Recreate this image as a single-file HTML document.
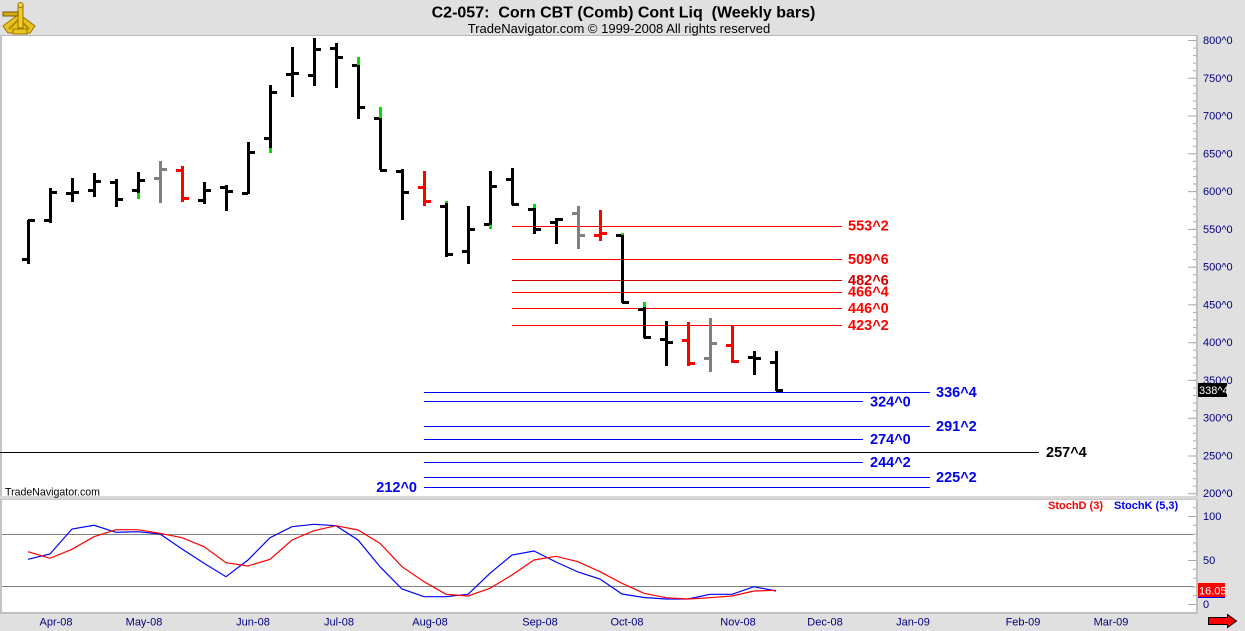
<!DOCTYPE html>
<html>
<head>
<meta charset="utf-8">
<style>
html,body{margin:0;padding:0;background:#e0e0e0;}
svg{display:block;}
text{font-family:"Liberation Sans",Arial,sans-serif;}
</style>
</head>
<body>
<svg width="1245" height="631" viewBox="0 0 1245 631" xmlns="http://www.w3.org/2000/svg">
<defs>
<pattern id="mt1" patternUnits="userSpaceOnUse" x="0" y="40" width="10" height="7.554">
<rect x="0" y="0" width="10" height="1" fill="#a8a8a8"/>
</pattern>
<pattern id="mt2" patternUnits="userSpaceOnUse" x="0" y="516" width="10" height="8.8">
<rect x="0" y="0" width="10" height="1" fill="#a8a8a8"/>
</pattern>
</defs>
<!-- background -->
<rect x="0" y="0" width="1245" height="631" fill="#e0e0e0"/>
<!-- upper panel -->
<rect x="2" y="36" width="1194" height="460" fill="#ffffff"/>
<rect x="0" y="35" width="1198" height="1" fill="#b8b8b8"/>
<rect x="0" y="35" width="2" height="462" fill="#c4c4c4"/>
<rect x="1196" y="35" width="2" height="462" fill="#c0c0c0"/>
<rect x="0" y="496" width="1198" height="3" fill="#d8d8d8"/>
<!-- lower panel -->
<rect x="2" y="500" width="1194" height="112" fill="#ffffff"/>
<rect x="0" y="499" width="1198" height="1" fill="#c8c8c8"/>
<rect x="0" y="499" width="2" height="114" fill="#c4c4c4"/>
<rect x="1196" y="499" width="2" height="114" fill="#c0c0c0"/>
<rect x="0" y="612" width="1198" height="2" fill="#c0c0c0"/>

<!-- logo -->
<g>
<path d="M3 26 L19 14 L35 26 L30 33 L8 33 Z" fill="#e8c41e" stroke="#9a7400" stroke-width="1"/>
<path d="M9 29 L19 19 L29 29" fill="none" stroke="#b08a08" stroke-width="2"/>
<rect x="18" y="4" width="5" height="24" fill="#f0cc28" stroke="#9a7400" stroke-width="1"/>
<rect x="3" y="12" width="15" height="4" fill="#d4ae10" stroke="#7a5a00" stroke-width="1"/>
<circle cx="20.5" cy="5" r="2.5" fill="#f4d840" stroke="#9a7400" stroke-width="1"/>
<rect x="13" y="29" width="14" height="5" fill="#e8c41e" stroke="#9a7400" stroke-width="1"/>
</g>

<!-- title -->
<text x="623.5" y="17.5" font-size="16" font-weight="bold" text-anchor="middle" fill="#000" style="white-space:pre" xml:space="preserve">C2-057:  Corn CBT (Comb) Cont Liq  (Weekly bars)</text>
<text x="619" y="33" font-size="13" text-anchor="middle" fill="#000">TradeNavigator.com © 1999-2008 All rights reserved</text>

<!-- horizontal level lines -->
<g shape-rendering="crispEdges">
<rect x="512" y="226" width="330" height="1" fill="#ff0000"/>
<rect x="512" y="259" width="330" height="1" fill="#ff0000"/>
<rect x="512" y="280" width="330" height="1" fill="#cc0000"/>
<rect x="512" y="292" width="330" height="1" fill="#ff0000"/>
<rect x="512" y="308" width="330" height="1" fill="#ff0000"/>
<rect x="512" y="325" width="330" height="1" fill="#ff0000"/>

<rect x="424" y="392" width="506" height="1" fill="#0000ee"/>
<rect x="424" y="401" width="439" height="1" fill="#0000ee"/>
<rect x="424" y="426" width="506" height="1" fill="#0000ee"/>
<rect x="424" y="439" width="439" height="1" fill="#0000ee"/>
<rect x="0" y="452" width="1039" height="1" fill="#000000"/>
<rect x="424" y="462" width="439" height="1" fill="#0000ee"/>
<rect x="424" y="477" width="506" height="1" fill="#0000ee"/>
<rect x="424" y="487" width="506" height="1" fill="#0000ee"/>
</g>

<g font-size="14.5" font-weight="bold">
<text x="848" y="230.5" fill="#ff0000">553^2</text>
<text x="848" y="264" fill="#ff0000">509^6</text>
<text x="848" y="285.2" fill="#cc0000">482^6</text>
<text x="848" y="296.5" fill="#ff0000">466^4</text>
<text x="848" y="313.2" fill="#ff0000">446^0</text>
<text x="848" y="330" fill="#ff0000">423^2</text>
<text x="936" y="397.2" fill="#0000ee">336^4</text>
<text x="870" y="406.5" fill="#0000ee">324^0</text>
<text x="936" y="431.2" fill="#0000ee">291^2</text>
<text x="870" y="444.2" fill="#0000ee">274^0</text>
<text x="1046" y="457.2" fill="#000000">257^4</text>
<text x="870" y="467.2" fill="#0000ee">244^2</text>
<text x="936" y="482.2" fill="#0000ee">225^2</text>
<text x="417" y="492" fill="#0000ee" text-anchor="end">212^0</text>
</g>

<text x="5" y="495.5" font-size="10.6" fill="#000">TradeNavigator.com</text>

<!-- bars -->
<g shape-rendering="crispEdges">
<g fill="#000">
<rect x="27" y="220" width="3" height="44"/><rect x="22" y="258" width="6" height="3"/><rect x="28" y="219" width="7" height="3"/>
<rect x="49" y="188" width="3" height="35"/><rect x="44" y="219" width="6" height="3"/><rect x="50" y="191" width="7" height="3"/>
<rect x="71" y="178" width="3" height="24"/><rect x="66" y="192" width="6" height="3"/><rect x="72" y="191" width="7" height="3"/>
<rect x="93" y="173" width="3" height="24"/><rect x="88" y="189" width="6" height="3"/><rect x="94" y="180" width="7" height="3"/>
<rect x="115" y="179" width="3" height="28"/><rect x="110" y="181" width="6" height="3"/><rect x="116" y="198" width="7" height="3"/>
<rect x="137" y="172" width="3" height="27"/><rect x="132" y="189" width="6" height="3"/><rect x="138" y="179" width="7" height="3"/>
<rect x="203" y="182" width="3" height="22"/><rect x="198" y="199" width="6" height="3"/><rect x="204" y="189" width="7" height="3"/>
<rect x="225" y="185" width="3" height="26"/><rect x="220" y="186" width="6" height="3"/><rect x="226" y="190" width="7" height="3"/>
<rect x="247" y="142" width="3" height="52"/><rect x="242" y="192" width="6" height="3"/><rect x="248" y="151" width="7" height="3"/>
<rect x="269" y="85" width="3" height="68"/><rect x="264" y="137" width="6" height="3"/><rect x="270" y="91" width="7" height="3"/>
<rect x="291" y="47" width="3" height="50"/><rect x="286" y="73" width="6" height="3"/><rect x="292" y="72" width="7" height="3"/>
<rect x="313" y="38" width="3" height="48"/><rect x="308" y="74" width="6" height="3"/><rect x="314" y="48" width="7" height="3"/>
<rect x="335" y="43" width="3" height="45"/><rect x="330" y="47" width="6" height="3"/><rect x="336" y="56" width="7" height="3"/>
<rect x="357" y="57" width="3" height="62"/><rect x="352" y="64" width="6" height="3"/><rect x="358" y="106" width="7" height="3"/>
<rect x="379" y="107" width="3" height="63"/><rect x="374" y="117" width="6" height="3"/><rect x="380" y="169" width="7" height="3"/>
<rect x="401" y="169" width="3" height="51"/><rect x="396" y="170" width="6" height="3"/><rect x="402" y="191" width="7" height="3"/>
<rect x="445" y="201" width="3" height="56"/><rect x="440" y="205" width="6" height="3"/><rect x="446" y="253" width="7" height="3"/>
<rect x="467" y="206" width="3" height="58"/><rect x="462" y="250" width="6" height="3"/><rect x="468" y="228" width="7" height="3"/>
<rect x="489" y="171" width="3" height="58"/><rect x="484" y="223" width="6" height="3"/><rect x="490" y="185" width="7" height="3"/>
<rect x="511" y="168" width="3" height="37"/><rect x="506" y="178" width="6" height="3"/><rect x="512" y="203" width="7" height="3"/>
<rect x="533" y="204" width="3" height="30"/><rect x="528" y="208" width="6" height="3"/><rect x="534" y="228" width="7" height="3"/>
<rect x="555" y="218" width="3" height="26"/><rect x="550" y="221" width="6" height="3"/><rect x="556" y="218" width="7" height="3"/>
<rect x="621" y="233" width="3" height="70"/><rect x="616" y="234" width="6" height="3"/><rect x="622" y="301" width="7" height="3"/>
<rect x="643" y="302" width="3" height="36"/><rect x="638" y="308" width="6" height="3"/><rect x="644" y="336" width="7" height="3"/>
<rect x="665" y="321" width="3" height="45"/><rect x="660" y="338" width="6" height="3"/><rect x="666" y="341" width="7" height="3"/>
<rect x="753" y="351" width="3" height="24"/><rect x="748" y="356" width="6" height="3"/><rect x="754" y="357" width="7" height="3"/>
<rect x="775" y="351" width="3" height="40"/><rect x="770" y="361" width="6" height="3"/><rect x="776" y="389" width="7" height="3"/>
</g>
<g fill="#808080">
<rect x="159" y="161" width="3" height="42"/><rect x="154" y="177" width="6" height="3"/><rect x="160" y="168" width="7" height="3"/>
<rect x="577" y="206" width="3" height="43"/><rect x="572" y="212" width="6" height="3"/><rect x="578" y="234" width="7" height="3"/>
<rect x="709" y="318" width="3" height="54"/><rect x="704" y="357" width="6" height="3"/><rect x="710" y="342" width="7" height="3"/>
</g>
<g fill="#ff0000">
<rect x="181" y="166" width="3" height="36"/><rect x="176" y="169" width="6" height="3"/><rect x="182" y="197" width="7" height="3"/>
<rect x="423" y="171" width="3" height="35"/><rect x="418" y="186" width="6" height="3"/><rect x="424" y="200" width="7" height="3"/>
<rect x="599" y="210" width="3" height="31"/><rect x="594" y="234" width="6" height="3"/><rect x="600" y="232" width="7" height="3"/>
<rect x="687" y="322" width="3" height="44"/><rect x="682" y="339" width="6" height="3"/><rect x="688" y="362" width="7" height="3"/>
<rect x="731" y="325" width="3" height="38"/><rect x="726" y="344" width="6" height="3"/><rect x="732" y="360" width="7" height="3"/>
</g>
<g fill="#00e000">
<rect x="137" y="193" width="3" height="6"/>
<rect x="269" y="148" width="3" height="5"/>
<rect x="357" y="57" width="3" height="8"/>
<rect x="379" y="107" width="3" height="11"/>
<rect x="445" y="201" width="3" height="2"/>
<rect x="489" y="225" width="3" height="4"/>
<rect x="533" y="204" width="3" height="4"/>
<rect x="621" y="233" width="3" height="2"/>
<rect x="643" y="302" width="3" height="5"/>
</g>
</g>

<!-- right axis upper -->
<rect x="1193" y="40" width="3" height="455" fill="url(#mt1)"/>
<path d="M1188 40.5H1196M1188 78.3H1196M1188 116H1196M1188 153.8H1196M1188 191.6H1196M1188 229.4H1196M1188 267.1H1196M1188 304.9H1196M1188 342.7H1196M1188 380.4H1196M1188 418.2H1196M1188 456H1196M1188 493.7H1196" stroke="#a8a8a8" stroke-width="1"/>
<g font-size="11" fill="#000080">
<text x="1203" y="44">800^0</text>
<text x="1203" y="81.8">750^0</text>
<text x="1203" y="119.5">700^0</text>
<text x="1203" y="157.3">650^0</text>
<text x="1203" y="195.1">600^0</text>
<text x="1203" y="232.9">550^0</text>
<text x="1203" y="270.6">500^0</text>
<text x="1203" y="308.4">450^0</text>
<text x="1203" y="346.2">400^0</text>
<text x="1203" y="383.9">350^0</text>
<text x="1203" y="421.7">300^0</text>
<text x="1203" y="459.5">250^0</text>
<text x="1203" y="497.2">200^0</text>
</g>
<rect x="1198" y="383" width="29" height="14" fill="#000"/>
<text x="1199" y="394" font-size="11" fill="#fff">338^4</text>

<!-- lower panel -->
<g shape-rendering="crispEdges">
<rect x="2" y="534" width="1191" height="1" fill="#808080"/>
<rect x="2" y="586" width="1191" height="1" fill="#808080"/>
</g>
<polyline fill="none" stroke="#0000ff" stroke-width="1.2" points="28,559.3 50,554 72,529 94,525.3 116,532.3 138,531.7 160,534 182,549 204,563.3 226,576.7 248,560 270,537.7 292,526.7 314,524.3 336,525.7 358,540 380,566.7 402,589 424,596.7 446,596.7 468,594.3 490,573.3 512,555 534,551 556,562 578,572 600,579 622,594 644,597.5 666,599 688,599 710,594.3 732,594.3 754,586.7 776,591"/>
<polyline fill="none" stroke="#ff0000" stroke-width="1.2" points="28,551.7 50,558.3 72,549.3 94,536.7 116,529.7 138,529.7 160,533.3 182,537.7 204,546.7 226,562.7 248,566 270,559.3 292,540 314,530.7 336,525.7 358,530 380,543.3 402,566.7 424,581.7 446,594.3 468,596 490,588.3 512,575 534,560 556,556.3 578,561.7 600,571.7 622,583.3 644,593.3 666,597.7 688,599 710,597.7 732,596 754,591 776,590.3"/>
<g font-size="11" font-weight="bold">
<text x="1048" y="509" fill="#ff0000">StochD (3)</text>
<text x="1114" y="509" fill="#0000ee">StochK (5,3)</text>
</g>
<rect x="1193" y="507" width="3" height="98" fill="url(#mt2)"/>
<path d="M1188 516.5H1196M1188 560.5H1196M1188 604.5H1196" stroke="#a8a8a8" stroke-width="1"/>
<g font-size="11" fill="#000080">
<text x="1203" y="520">100</text>
<text x="1203" y="564">50</text>
<text x="1203" y="608">0</text>
</g>
<rect x="1198" y="583" width="27" height="14" fill="#ff0000"/>
<rect x="1198" y="597" width="27" height="1" fill="#0000ff"/>
<text x="1199" y="594.5" font-size="11" fill="#fff">16.05</text>

<!-- x axis labels -->
<g font-size="11" fill="#000080" text-anchor="middle">
<text x="56" y="625.5">Apr-08</text>
<text x="144" y="625.5">May-08</text>
<text x="253" y="625.5">Jun-08</text>
<text x="339" y="625.5">Jul-08</text>
<text x="430" y="625.5">Aug-08</text>
<text x="540" y="625.5">Sep-08</text>
<text x="627" y="625.5">Oct-08</text>
<text x="738" y="625.5">Nov-08</text>
<text x="825" y="625.5">Dec-08</text>
<text x="913" y="625.5">Jan-09</text>
<text x="1023" y="625.5">Feb-09</text>
<text x="1111" y="625.5">Mar-09</text>
</g>

<!-- red arrow -->
<path d="M1208.5 617.5H1227.5V614.5L1236.5 621L1227.5 627.5V624.5H1208.5Z" fill="#ff0000" stroke="#000" stroke-width="1"/>
</svg>
</body>
</html>
